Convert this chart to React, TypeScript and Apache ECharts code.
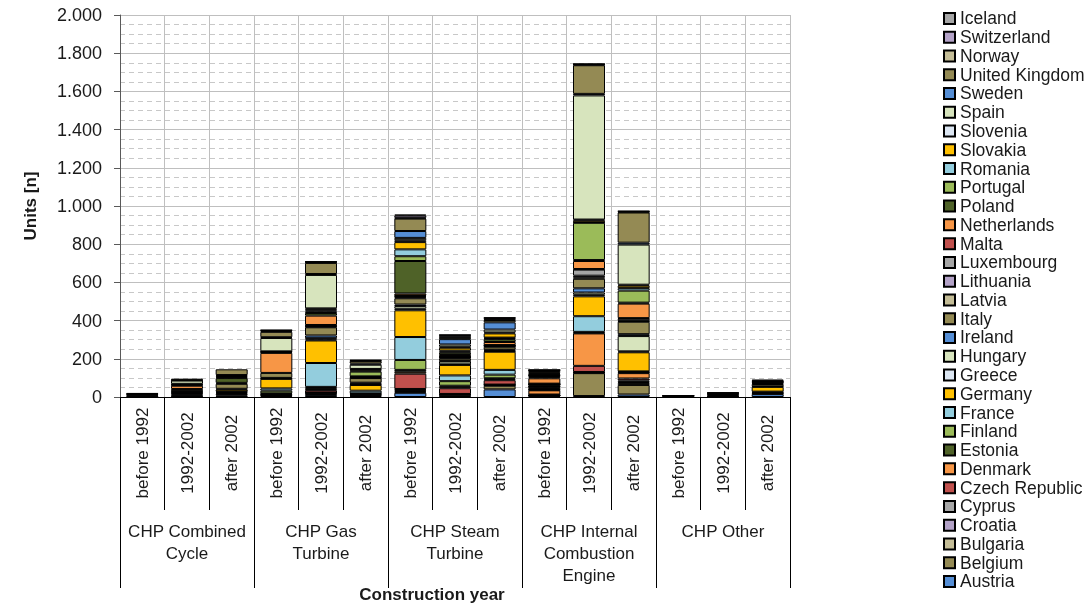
import React, { useEffect, useRef } from "react";
import * as echarts from "echarts";

const subCategories = [
  "before 1992", "1992-2002", "after 2002",
  "before 1992", "1992-2002", "after 2002",
  "before 1992", "1992-2002", "after 2002",
  "before 1992", "1992-2002", "after 2002",
  "before 1992", "1992-2002", "after 2002",
];
const groupCategories = [
  "CHP Combined\nCycle",
  "CHP Gas\nTurbine",
  "CHP Steam\nTurbine",
  "CHP Internal\nCombustion\nEngine",
  "CHP Other",
];
const yTicks = [0, 200, 400, 600, 800, 1000, 1200, 1400, 1600, 1800, 2000];

// bottom-to-top stacking order
const countries = [
  "Austria", "Belgium", "Bulgaria", "Croatia", "Cyprus", "Czech Republic", "Denmark",
  "Estonia", "Finland", "France", "Germany", "Greece", "Hungary", "Ireland", "Italy",
  "Latvia", "Lithuania", "Luxembourg", "Malta", "Netherlands", "Poland", "Portugal",
  "Romania", "Slovakia", "Slovenia", "Spain", "Sweden", "United Kingdom", "Norway",
  "Switzerland", "Iceland",
];

const colors = [
  "#558ED5", "#948A54", "#C4BD97", "#B3A2C7", "#A6A6A6", "#C0504D", "#F79646",
  "#4F6228", "#9BBB59", "#93CDDD", "#FFC000", "#DCE6F2", "#D7E4BD", "#558ED5", "#948A54",
  "#C4BD97", "#B3A2C7", "#A6A6A6", "#C0504D", "#F79646", "#4F6228", "#9BBB59",
  "#93CDDD", "#FFC000", "#DCE6F2", "#D7E4BD", "#558ED5", "#948A54", "#C4BD97",
  "#B3A2C7", "#A6A6A6",
];

const austria = [0, 3, 3, 6, 10, 5, 22, 8, 40, 3, 5, 13, 0, 2, 15];
const belgium = [0, 4, 5, 4, 5, 4, 5, 3, 19, 4, 120, 50, 0, 0, 3];
const bulgaria = [0, 0, 0, 2, 4, 0, 5, 2, 3, 1, 2, 10, 0, 0, 0];
const croatia = [0, 0, 0, 0, 3, 0, 6, 2, 2, 1, 2, 6, 0, 0, 0];
const cyprus = [0, 0, 0, 0, 2, 0, 4, 1, 1, 1, 2, 8, 0, 0, 0];
const czech = [0, 5, 8, 4, 12, 4, 80, 30, 23, 3, 32, 10, 0, 0, 3];
const denmark = [2, 5, 5, 3, 7, 3, 10, 8, 5, 22, 170, 28, 0, 3, 4];
const estonia = [0, 0, 5, 0, 5, 0, 10, 5, 5, 2, 3, 3, 0, 0, 0];
const finland = [0, 4, 3, 14, 5, 3, 52, 24, 19, 3, 5, 3, 0, 0, 3];
const france = [0, 3, 0, 12, 125, 14, 120, 30, 25, 2, 82, 3, 0, 0, 0];
const germany = [5, 6, 10, 50, 118, 30, 140, 55, 95, 9, 104, 100, 3, 6, 25];
const greece = [0, 0, 0, 2, 5, 3, 8, 3, 3, 2, 8, 5, 0, 0, 0];
const hungary = [0, 2, 4, 3, 7, 5, 14, 15, 5, 2, 12, 80, 0, 0, 3];
const ireland = [0, 0, 0, 0, 14, 4, 8, 3, 3, 2, 22, 10, 0, 0, 0];
const italy = [4, 10, 26, 26, 43, 24, 33, 12, 15, 8, 50, 65, 2, 4, 12];
const latvia = [0, 0, 0, 0, 3, 2, 5, 4, 3, 1, 8, 3, 0, 0, 0];
const lithuania = [0, 0, 0, 0, 3, 0, 4, 3, 2, 1, 8, 3, 0, 0, 0];
const luxembourg = [0, 0, 0, 0, 3, 0, 3, 2, 2, 2, 32, 10, 0, 0, 0];
const malta = [0, 0, 0, 0, 3, 0, 3, 2, 2, 1, 3, 3, 0, 0, 0];
const netherlands = [3, 17, 5, 105, 49, 4, 10, 8, 16, 28, 42, 76, 2, 4, 5];
const poland = [3, 4, 25, 3, 14, 3, 170, 12, 15, 6, 5, 5, 0, 2, 3];
const portugal = [0, 3, 5, 3, 7, 25, 25, 6, 5, 6, 195, 63, 0, 0, 0];
const romania = [0, 0, 0, 0, 6, 5, 36, 5, 3, 2, 3, 13, 0, 0, 0];
const slovakia = [0, 3, 6, 2, 6, 6, 38, 15, 22, 3, 10, 13, 0, 0, 3];
const slovenia = [0, 0, 0, 0, 5, 3, 10, 5, 5, 2, 4, 5, 0, 0, 0];
const spain = [0, 17, 5, 70, 175, 22, 12, 12, 15, 5, 650, 210, 0, 0, 3];
const sweden = [0, 2, 0, 4, 5, 6, 36, 28, 38, 4, 8, 10, 0, 0, 3];
const unitedKingdom = [3, 8, 30, 28, 58, 13, 65, 10, 12, 10, 150, 158, 1, 3, 6];
const norway = [0, 0, 0, 5, 3, 3, 4, 3, 3, 3, 3, 3, 0, 0, 0];
const switzerland = [0, 0, 0, 3, 3, 3, 12, 8, 8, 2, 3, 3, 0, 0, 0];
const iceland = [0, 0, 0, 2, 1, 0, 5, 2, 2, 1, 1, 2, 0, 0, 0];

const values = [
  austria, belgium, bulgaria, croatia, cyprus, czech, denmark, estonia, finland, france,
  germany, greece, hungary, ireland, italy, latvia, lithuania, luxembourg, malta,
  netherlands, poland, portugal, romania, slovakia, slovenia, spain, sweden,
  unitedKingdom, norway, switzerland, iceland,
];

const FONT = '"Liberation Sans", Arial, sans-serif';
const TXT = "#1a1a1a";

function fmt(v: number): string {
  if (v >= 1000) {
    return Math.floor(v / 1000) + "." + String(v % 1000).padStart(3, "0");
  }
  return String(v);
}

export default function App() {
  const ref = useRef<HTMLDivElement>(null);
  useEffect(() => {
    if (!ref.current) return;
    const chart = echarts.init(ref.current, null, { renderer: "svg" });
    const series = countries.map((name, i) => ({
      name,
      type: "bar",
      stack: "total",
      xAxisIndex: 0,
      barWidth: 32,
      data: values[i].map((v) => (v === 0 ? null : v)),
      itemStyle: { color: colors[i], borderColor: "#000", borderWidth: 1 },
      emphasis: { disabled: true },
    }));
    chart.setOption({
      animation: false,
      textStyle: { fontFamily: FONT },
      grid: { left: 120, right: 299, top: 15, bottom: 210, containLabel: false },
      legend: {
        orient: "vertical",
        left: 938,
        top: 4,
        itemWidth: 11,
        itemHeight: 11,
        itemGap: 0,
        icon: "rect",
        data: countries.slice().reverse(),
        textStyle: { fontSize: 17.5, color: TXT, fontFamily: FONT, lineHeight: 18.77 },
      },
      xAxis: [
        {
          type: "category",
          data: subCategories,
          position: "bottom",
          axisLine: { show: true, lineStyle: { color: "#000" } },
          axisTick: { show: true, interval: 0, length: 113, lineStyle: { color: "#000" } },
          axisLabel: {
            interval: 0,
            rotate: 90,
            align: "center",
            margin: 56,
            fontSize: 17,
            color: TXT,
            fontFamily: FONT,
          },
          splitLine: { show: true, interval: 0, lineStyle: { color: "#bfbfbf" } },
        },
        {
          type: "category",
          data: groupCategories,
          position: "bottom",
          offset: 113,
          axisLine: { show: false },
          axisTick: { show: true, interval: 0, length: 78, lineStyle: { color: "#000" } },
          axisLabel: {
            interval: 0,
            margin: 10,
            verticalAlign: "top",
            lineHeight: 22,
            fontSize: 17,
            color: TXT,
            fontFamily: FONT,
          },
          splitLine: { show: false },
        },
      ],
      yAxis: {
        type: "value",
        min: yTicks[0],
        max: yTicks[yTicks.length - 1],
        interval: 200,
        name: "Units [n]",
        nameLocation: "middle",
        nameGap: 81,
        nameRotate: 90,
        nameTextStyle: { fontWeight: "bold", fontSize: 17, color: TXT, fontFamily: FONT },
        axisLine: { show: true, lineStyle: { color: "#595959" } },
        axisTick: { show: true, length: 6, lineStyle: { color: "#595959" } },
        axisLabel: { formatter: fmt, fontSize: 18, margin: 18, color: TXT, fontFamily: FONT },
        splitLine: { show: true, lineStyle: { color: "#bfbfbf" } },
        minorTick: { show: false, splitNumber: 4 },
        minorSplitLine: { show: true, lineStyle: { color: "#c8c8c8", type: [5, 4] } },
      },
      graphic: [
        {
          type: "text",
          x: 432,
          y: 594,
          style: {
            text: "Construction year",
            fontSize: 17,
            fontWeight: "bold",
            fontFamily: FONT,
            fill: TXT,
            align: "center",
            verticalAlign: "middle",
          },
        },
      ],
      series,
    });
    return () => chart.dispose();
  }, []);
  return (
    <div
      ref={ref}
      style={{ position: "fixed", left: 0, top: 0, width: 1089, height: 607 }}
    />
  );
}
